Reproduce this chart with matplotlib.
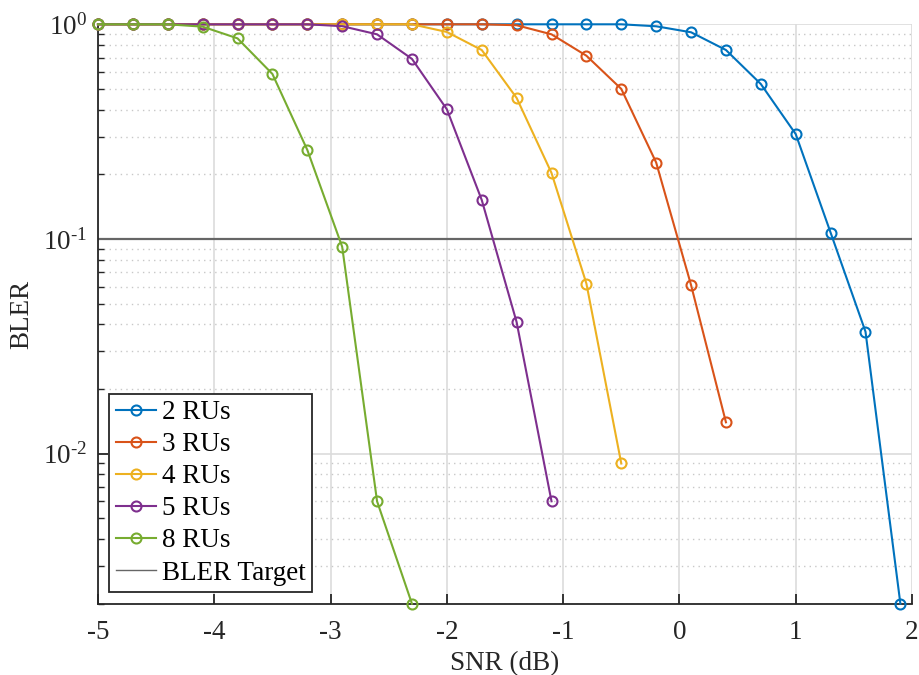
import numpy as np
import matplotlib
matplotlib.use("Agg")
import matplotlib.pyplot as plt

# --- data ----------------------------------------------------------------
SNR_2 = [-5.0, -4.7, -4.4, -4.1, -3.8, -3.5, -3.2, -2.9, -2.6, -2.3, -2.0, -1.7,
         -1.4, -1.1, -0.8, -0.5, -0.2, 0.1, 0.4, 0.7, 1.0, 1.3, 1.6, 1.9]
BLER_2 = [1, 1, 1, 1, 1, 1, 1, 1, 1, 1, 1, 1,
          1, 1, 1, 1, 0.979, 0.918, 0.759, 0.527, 0.308, 0.107, 0.037, 0.002]

SNR_3 = [-5.0, -4.7, -4.4, -4.1, -3.8, -3.5, -3.2, -2.9, -2.6, -2.3, -2.0, -1.7,
         -1.4, -1.1, -0.8, -0.5, -0.2, 0.1, 0.4]
BLER_3 = [1, 1, 1, 1, 1, 1, 1, 1, 1, 1, 1, 1,
          0.99, 0.898, 0.714, 0.50, 0.227, 0.061, 0.014]

SNR_4 = [-5.0, -4.7, -4.4, -4.1, -3.8, -3.5, -3.2, -2.9, -2.6, -2.3, -2.0, -1.7,
         -1.4, -1.1, -0.8, -0.5]
BLER_4 = [1, 1, 1, 1, 1, 1, 1, 1, 1, 1, 0.921, 0.759,
          0.454, 0.203, 0.062, 0.009]

SNR_5 = [-5.0, -4.7, -4.4, -4.1, -3.8, -3.5, -3.2, -2.9, -2.6, -2.3, -2.0, -1.7,
         -1.4, -1.1]
BLER_5 = [1, 1, 1, 1, 1, 1, 1, 0.98, 0.898, 0.69, 0.402, 0.152,
          0.041, 0.006]

SNR_8 = [-5.0, -4.7, -4.4, -4.1, -3.8, -3.5, -3.2, -2.9, -2.6, -2.3]
BLER_8 = [1, 1, 1, 0.975, 0.86, 0.587, 0.26, 0.092, 0.006, 0.002]

BLER_TARGET = 0.1

SERIES = [
    ("2 RUs", SNR_2, BLER_2, "#0072BD"),
    ("3 RUs", SNR_3, BLER_3, "#D95319"),
    ("4 RUs", SNR_4, BLER_4, "#EDB120"),
    ("5 RUs", SNR_5, BLER_5, "#7E2F8E"),
    ("8 RUs", SNR_8, BLER_8, "#77AC30"),
]

FS = 19.5
plt.rcParams["font.family"] = ["Liberation Serif", "DejaVu Serif"]
plt.rcParams["mathtext.fontset"] = "custom"
plt.rcParams["mathtext.rm"] = "Liberation Serif"
plt.rcParams["mathtext.it"] = "Liberation Serif"

fig = plt.figure(figsize=(9.19, 6.75), dpi=100)
ax = fig.add_axes([0.1066, 0.1056, 0.8858, 0.8584])

for label, x, y, c in SERIES:
    ax.plot(x, y, color=c, lw=1.5, marker="o", ms=7.2, mfc="none",
            mew=1.5, label=label, clip_on=False, zorder=3)

ax.axhline(BLER_TARGET, color="#666666", lw=1.6, label="BLER Target", zorder=2)

ax.set_yscale("log")
ax.set_xlim(-5, 2)
ax.set_ylim(0.002, 1)
ax.set_xticks(np.arange(-5, 3, 1))
ax.set_xticklabels([str(v) for v in range(-5, 3)])
ax.set_yticks([1e-2, 1e-1, 1e0])
ax.set_yticklabels([r"$10^{\text{-}2}$", r"$10^{\text{-}1}$", r"$10^{0}$"])

ax.grid(True, which="major", color="#dcdcdc", lw=1.2, ls="-")
ax.yaxis.grid(True, which="minor", color="#c8c8c8", lw=1.0, ls=(0, (1, 3)))
ax.set_axisbelow(True)

for s in ("top", "right"):
    ax.spines[s].set_visible(False)
for s in ("left", "bottom"):
    ax.spines[s].set_color("#262626")
    ax.spines[s].set_linewidth(1.3)

ax.tick_params(axis="both", which="both", direction="in", colors="#262626",
               labelsize=FS, labelcolor="#262626")
ax.tick_params(which="major", length=7, width=1.3)
ax.tick_params(which="minor", length=4, width=1.0)
ax.tick_params(axis="x", pad=12)
ax.tick_params(axis="y", pad=8)

ax.set_xlabel("SNR (dB)", fontsize=FS, color="#262626", labelpad=4)
ax.set_ylabel("BLER", fontsize=FS, color="#262626", labelpad=6)

leg = ax.legend(loc="lower left", bbox_to_anchor=(0.0135, 0.0197), fontsize=FS,
                frameon=True, fancybox=False, handlelength=1.5,
                handletextpad=0.2, borderpad=0.25, labelspacing=0.26,
                borderaxespad=0)
leg.get_frame().set_edgecolor("#262626")
leg.get_frame().set_linewidth(1.3)
leg.get_frame().set_alpha(1)
leg.legend_handles[-1].set_linewidth(1.0)

plt.savefig("out.png", dpi=100)
